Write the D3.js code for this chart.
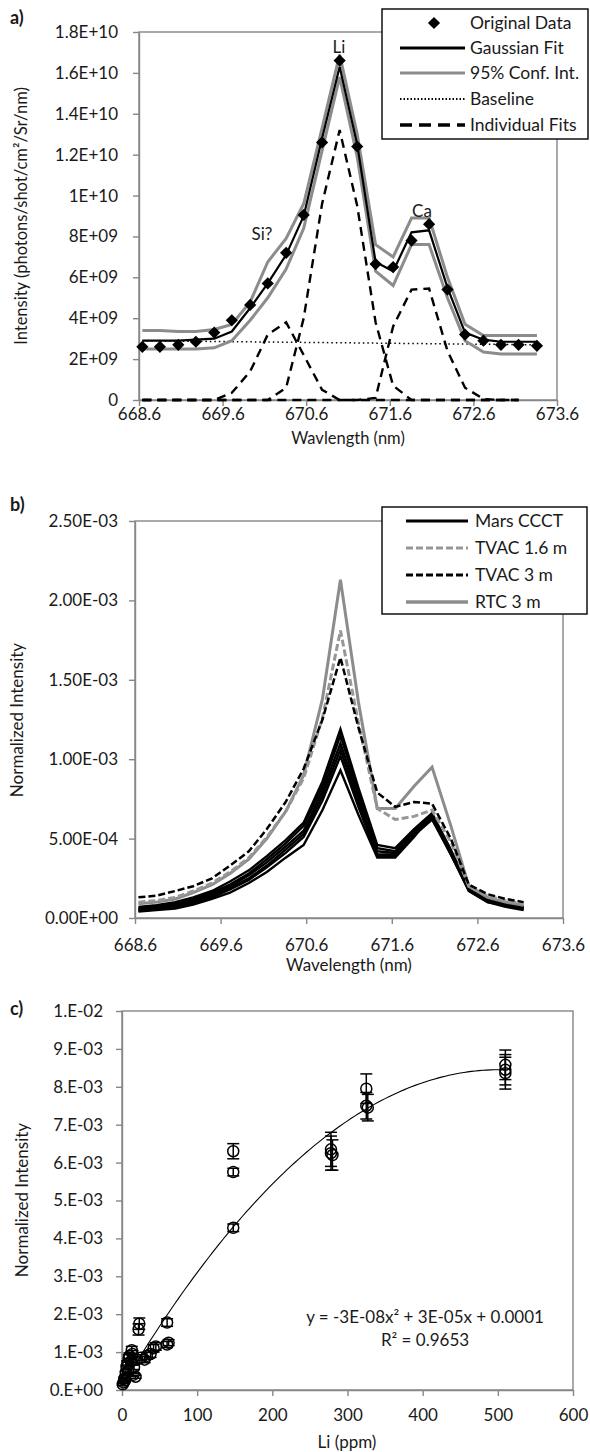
<!DOCTYPE html>
<html>
<head>
<meta charset="utf-8">
<script src="https://cdn.jsdelivr.net/npm/d3@7"></script>
<style>
  body { margin: 0; background: #fff; }
  svg { display: block; font-family: Lato, "Open Sans", sans-serif; }
</style>
</head>
<body>
<svg id="chart" width="590" height="1452"></svg>
<script>
// ---- shared wavelength grid (nm) ----
const wavelengths = [668.64, 668.85, 669.07, 669.28, 669.50, 669.71, 669.93, 670.14, 670.36, 670.57, 670.79, 671.00,
                     671.21, 671.43, 671.64, 671.86, 672.07, 672.29, 672.50, 672.72, 672.93, 673.14, 673.36];
const wlTicks = [668.6, 669.6, 670.6, 671.6, 672.6, 673.6];

// ---- panel a (values in units of 1E+09) ----
const aYTicks = [0, 2, 4, 6, 8, 10, 12, 14, 16, 18];
const aYLabels = ["0", "2E+09", "4E+09", "6E+09", "8E+09", "1E+10", "1.2E+10", "1.4E+10", "1.6E+10", "1.8E+10"];
const originalData = [2.6, 2.6, 2.7, 2.85, 3.3, 3.9, 4.65, 5.7, 7.2, 9.05, 12.6, 16.6, 12.4, 6.65, 6.5, 7.8, 8.6, 5.4, 3.2, 2.9, 2.7, 2.7, 2.65];
const gaussianFit  = [2.9, 2.9, 2.9, 2.95, 3.0, 3.35, 4.5, 5.7, 7.1, 9.0, 12.8, 16.3, 12.5, 6.75, 6.3, 8.2, 8.3, 5.5, 3.3, 2.95, 2.85, 2.85, 2.85];
const confUpper    = [3.4, 3.4, 3.35, 3.35, 3.45, 3.7, 4.8, 6.75, 7.9, 9.6, 13.3, 16.9, 13.0, 7.6, 7.0, 8.9, 8.9, 6.0, 3.7, 3.15, 3.15, 3.15, 3.15];
const confLower    = [2.5, 2.5, 2.5, 2.5, 2.55, 2.9, 3.9, 5.0, 6.4, 8.4, 12.2, 15.8, 11.9, 6.3, 5.6, 7.6, 7.6, 5.0, 2.9, 2.35, 2.25, 2.25, 2.25];
const baselineEnds = [2.9, 2.7];
const fitSi = [0, 0, 0, 0, 0, 0.35, 1.4, 3.2, 3.8, 2.2, 0.5, 0, 0, 0, 0, 0, 0, 0, 0, 0, 0, 0];
const fitLi = [0, 0, 0, 0, 0, 0, 0, 0, 0.6, 4.0, 9.6, 13.2, 9.5, 3.8, 0.7, 0, 0, 0, 0, 0, 0, 0];
const fitCa = [0, 0, 0, 0, 0, 0, 0, 0, 0, 0, 0, 0, 0, 0.1, 3.6, 5.4, 5.45, 2.4, 0.6, 0.05, 0, 0];
const aLegend = ["Original Data", "Gaussian Fit", "95% Conf. Int.", "Baseline", "Individual Fits"];

// ---- panel b (values in units of 1E-04) ----
const bYTicks = [0, 5, 10, 15, 20, 25];
const bYLabels = ["0.00E+00", "5.00E-04", "1.00E-03", "1.50E-03", "2.00E-03", "2.50E-03"];
const marsCCCT = [
  [0.7, 0.8, 1.0, 1.3, 1.7, 2.3, 3.0, 3.9, 4.9, 6.0, 8.6, 11.9, 8.2, 4.6, 4.4, 5.6, 6.6, 4.3, 1.9, 1.2, 0.9, 0.7],
  [0.6, 0.7, 0.9, 1.2, 1.6, 2.1, 2.8, 3.7, 4.7, 5.8, 8.3, 11.5, 7.9, 4.4, 4.2, 5.5, 6.5, 4.2, 1.9, 1.2, 0.9, 0.7],
  [0.55, 0.65, 0.8, 1.1, 1.5, 2.0, 2.7, 3.5, 4.5, 5.5, 8.0, 11.0, 7.6, 4.2, 4.1, 5.4, 6.4, 4.1, 1.8, 1.1, 0.8, 0.6],
  [0.5, 0.6, 0.75, 1.0, 1.4, 1.9, 2.5, 3.3, 4.3, 5.3, 7.7, 10.6, 7.3, 4.0, 4.0, 5.3, 6.3, 4.0, 1.8, 1.1, 0.8, 0.6],
  [0.45, 0.55, 0.7, 0.95, 1.3, 1.8, 2.4, 3.2, 4.1, 5.1, 7.4, 10.2, 7.0, 3.9, 3.9, 5.2, 6.2, 4.0, 1.7, 1.0, 0.8, 0.6],
  [0.4, 0.5, 0.6, 0.85, 1.2, 1.6, 2.2, 2.9, 3.8, 4.6, 6.8, 9.3, 6.5, 3.8, 3.8, 5.1, 6.5, 4.1, 1.7, 1.0, 0.7, 0.5]
];
const tvac16 = [1.0, 1.1, 1.3, 1.7, 2.2, 2.9, 3.8, 5.1, 6.7, 8.8, 12.6, 18.1, 12.3, 6.9, 6.2, 6.4, 6.8, 4.8, 2.0, 1.4, 1.1, 0.9];
const tvac3  = [1.3, 1.4, 1.7, 2.0, 2.5, 3.3, 4.2, 5.6, 7.3, 9.4, 12.5, 16.4, 12.0, 7.9, 7.0, 7.3, 7.2, 5.0, 2.1, 1.5, 1.2, 1.0];
const rtc3   = [0.9, 1.0, 1.2, 1.6, 2.1, 2.8, 3.7, 5.0, 6.7, 9.0, 13.8, 21.3, 13.6, 6.9, 6.9, 8.3, 9.5, 5.8, 2.0, 1.3, 1.0, 0.8];
const bLegend = ["Mars CCCT", "TVAC 1.6 m", "TVAC 3 m", "RTC 3 m"];

// ---- panel c (intensity in units of 1E-03) ----
const cXTicks = [0, 100, 200, 300, 400, 500, 600];
const cYTicks = [0, 1, 2, 3, 4, 5, 6, 7, 8, 9, 10];
const cYLabels = ["0.E+00", "1.E-03", "2.E-03", "3.E-03", "4.E-03", "5.E-03", "6.E-03", "7.E-03", "8.E-03", "9.E-03", "1.E-02"];
const liPpm   = [1, 2, 3, 4, 5, 6, 7, 8, 9, 10, 12, 13, 14, 15, 16, 18, 20, 22, 23, 25, 30, 33, 38, 42, 45,
                 60, 60, 62, 148, 148, 148, 278, 278, 280, 325, 325, 327, 510, 510, 510];
const normInt = [0.15, 0.2, 0.3, 0.25, 0.45, 0.6, 0.7, 0.5, 0.85, 0.9, 0.75, 1.05, 0.95, 0.4, 0.6, 0.35, 0.8, 1.6, 1.75, 0.85, 0.8, 0.9, 0.95, 1.1, 1.15,
                 1.78, 1.2, 1.25, 6.3, 5.75, 4.28, 6.35, 6.25, 6.2, 7.95, 7.5, 7.45, 8.58, 8.45, 8.36];
const errInt  = [0.03, 0.03, 0.04, 0.04, 0.05, 0.06, 0.07, 0.05, 0.08, 0.08, 0.07, 0.1, 0.09, 0.04, 0.06, 0.04, 0.08, 0.15, 0.15, 0.08, 0.08, 0.09, 0.09, 0.1, 0.1,
                 0.1, 0.08, 0.08, 0.2, 0.1, 0.1, 0.45, 0.45, 0.4, 0.39, 0.35, 0.35, 0.39, 0.4, 0.42];
const trendCoef = [-3.32e-5, 3.33e-2, 0.1];   // quadratic in 1E-03 units
const trendText = ["y = -3E-08x\u00b2 + 3E-05x + 0.0001", "R\u00b2 = 0.9653"];

const svg = d3.select("#chart");
const axisColor = "#878787";
const textColor = "#1a1a1a";
const fs = 17;

function styleAxis(g) {
  g.select(".domain").attr("stroke", axisColor).attr("stroke-width", 1.4);
  g.selectAll(".tick line").attr("stroke", axisColor).attr("stroke-width", 1.4);
  g.selectAll(".tick text").attr("fill", textColor).style("font-size", fs + "px").style("font-family", "Lato");
}

function frame(x, y, left, right, top, bottom, xTicks, xFmt, yTicks, yFmt, xPad, yPad) {
  svg.append("rect")
     .attr("x", left).attr("y", top)
     .attr("width", right - left).attr("height", bottom - top)
     .attr("fill", "none").attr("stroke", axisColor).attr("stroke-width", 1.4);
  svg.append("g")
     .attr("transform", `translate(0,${bottom})`)
     .call(d3.axisBottom(x).tickValues(xTicks).tickFormat(xFmt).tickSize(6).tickSizeOuter(0).tickPadding(xPad))
     .call(styleAxis);
  svg.append("g")
     .attr("transform", `translate(${left},0)`)
     .call(d3.axisLeft(y).tickValues(yTicks).tickFormat(yFmt).tickSize(6).tickSizeOuter(0).tickPadding(yPad))
     .call(styleAxis);
}

function label(txt, x, y, opts = {}) {
  const t = svg.append("text")
     .attr("x", x).attr("y", y)
     .attr("text-anchor", opts.anchor || "middle")
     .attr("fill", textColor)
     .style("font-size", (opts.size || fs) + "px")
     .style("font-weight", opts.bold ? "bold" : "normal")
     .text(txt);
  if (opts.rotate) t.attr("transform", `rotate(-90,${x},${y})`);
  return t;
}

// ================= panel a =================
const xa = d3.scaleLinear().domain([668.6, 673.6]).range([139, 557]);
const ya = d3.scaleLinear().domain([0, 18]).range([400, 32]);
frame(xa, ya, 139, 557, 32, 400, wlTicks, d3.format(".1f"), aYTicks, (d, i) => aYLabels[i], 2, 15);

const lineA = arr => d3.line().x((d, i) => xa(wavelengths[i])).y(d => ya(d))(arr);

[fitSi, fitLi, fitCa].forEach(s => {
  svg.append("path").attr("d", lineA(s)).attr("fill", "none")
     .attr("stroke", "#000").attr("stroke-width", 2.4).attr("stroke-dasharray", "9,6");
});
svg.append("path")
   .attr("d", d3.line()([[xa(wavelengths[0]), ya(baselineEnds[0])], [xa(wavelengths[22]), ya(baselineEnds[1])]]))
   .attr("stroke", "#000").attr("stroke-width", 1.5).attr("stroke-dasharray", "1.5,3");
[confUpper, confLower].forEach(s => {
  svg.append("path").attr("d", lineA(s)).attr("fill", "none")
     .attr("stroke", "#8c8c8c").attr("stroke-width", 3);
});
svg.append("path").attr("d", lineA(gaussianFit)).attr("fill", "none")
   .attr("stroke", "#000").attr("stroke-width", 2.2);

const diamond = d3.symbol().type(d3.symbolDiamond2).size(95);
svg.append("g").selectAll("path")
   .data(originalData).enter().append("path")
   .attr("d", diamond)
   .attr("transform", (d, i) => `translate(${xa(wavelengths[i])},${ya(d)})`)
   .attr("fill", "#000");

label("Li", 339, 53);
label("Si?", 262, 240);
label("Ca", 422, 217);
label("a)", 10, 24, { anchor: "start", bold: true, size: 18 });
label("Intensity (photons/shot/cm\u00b2/Sr/nm)", 27, 216, { rotate: true, size: 16.5 });
label("Wavlength (nm)", 348, 444, { size: 16.5 });

// legend a
const legA = svg.append("g");
legA.append("rect").attr("x", 382).attr("y", 9).attr("width", 206).attr("height", 130)
    .attr("fill", "#fff").attr("stroke", "#000").attr("stroke-width", 1.4);
aLegend.forEach((name, i) => {
  const yy = [23, 48, 73, 99, 125][i];
  if (i === 0) {
    legA.append("path").attr("d", diamond).attr("transform", `translate(434,${yy})`).attr("fill", "#000");
  } else {
    const st = [null, ["#000", 2.8, null], ["#8c8c8c", 3.2, null], ["#000", 1.8, "1.5,2"], ["#000", 3.5, "12,7"]][i];
    legA.append("line").attr("x1", 400).attr("x2", 465).attr("y1", yy).attr("y2", yy)
        .attr("stroke", st[0]).attr("stroke-width", st[1]).attr("stroke-dasharray", st[2]);
  }
  legA.append("text").attr("x", 470).attr("y", yy + 6).attr("fill", textColor)
      .style("font-size", "17.5px").text(name);
});

// ================= panel b =================
const xb = d3.scaleLinear().domain([668.6, 673.6]).range([135, 563]);
const yb = d3.scaleLinear().domain([0, 25]).range([918, 521]);
frame(xb, yb, 135, 563, 521, 918, wlTicks, d3.format(".1f"), bYTicks, (d, i) => bYLabels[i], 15, 11);

const lineB = arr => d3.line().x((d, i) => xb(wavelengths[i])).y(d => yb(d))(arr);
marsCCCT.forEach(s => {
  svg.append("path").attr("d", lineB(s)).attr("fill", "none")
     .attr("stroke", "#000").attr("stroke-width", 2.4);
});
svg.append("path").attr("d", lineB(rtc3)).attr("fill", "none")
   .attr("stroke", "#8c8c8c").attr("stroke-width", 3);
svg.append("path").attr("d", lineB(tvac16)).attr("fill", "none")
   .attr("stroke", "#979797").attr("stroke-width", 3).attr("stroke-dasharray", "7,3");
svg.append("path").attr("d", lineB(tvac3)).attr("fill", "none")
   .attr("stroke", "#000").attr("stroke-width", 2.5).attr("stroke-dasharray", "7,3");

label("b)", 10, 511, { anchor: "start", bold: true, size: 18 });
label("Normalized Intensity", 23, 720, { rotate: true });
label("Wavelength (nm)", 349, 971);

const legB = svg.append("g");
legB.append("rect").attr("x", 382).attr("y", 507).attr("width", 205).attr("height", 107)
    .attr("fill", "#fff").attr("stroke", "#000").attr("stroke-width", 1.4);
bLegend.forEach((name, i) => {
  const yy = 521 + i * 27;
  const st = [["#000", 3, null], ["#979797", 3, "7,3"], ["#000", 3, "7,3"], ["#8c8c8c", 3.5, null]][i];
  legB.append("line").attr("x1", 406).attr("x2", 468).attr("y1", yy).attr("y2", yy)
      .attr("stroke", st[0]).attr("stroke-width", st[1]).attr("stroke-dasharray", st[2]);
  legB.append("text").attr("x", 475).attr("y", yy + 6).attr("fill", textColor)
      .style("font-size", "17.5px").text(name);
});

// ================= panel c =================
const xc = d3.scaleLinear().domain([0, 600]).range([122, 573]);
const yc = d3.scaleLinear().domain([0, 10]).range([1390, 1011]);
frame(xc, yc, 122, 573, 1011, 1390, cXTicks, d3.format("d"), cYTicks, (d, i) => cYLabels[i], 13, 13);

const trend = d3.range(0, 511, 5).map(x => [x, trendCoef[0] * x * x + trendCoef[1] * x + trendCoef[2]]);
svg.append("path")
   .attr("d", d3.line().x(d => xc(d[0])).y(d => yc(d[1]))(trend))
   .attr("fill", "none").attr("stroke", "#000").attr("stroke-width", 1.1);

const pts = svg.append("g");
liPpm.forEach((p, i) => {
  const cx = xc(p), v = normInt[i], e = errInt[i];
  const g = pts.append("g").attr("stroke", "#000").attr("stroke-width", 1.5).attr("fill", "none");
  g.append("line").attr("x1", cx).attr("x2", cx).attr("y1", yc(v - e)).attr("y2", yc(v + e));
  [v - e, v + e].forEach(yv => g.append("line").attr("x1", cx - 6).attr("x2", cx + 6).attr("y1", yc(yv)).attr("y2", yc(yv)));
  g.append("circle").attr("cx", cx).attr("cy", yc(v)).attr("r", 5.5);
});

label(trendText[0], 425, 1323);
label(trendText[1], 425, 1346);
label("c)", 10, 1015, { anchor: "start", bold: true, size: 18 });
label("Normalized Intensity", 28, 1200, { rotate: true });
label("Li (ppm)", 347, 1448);
</script>
</body>
</html>
